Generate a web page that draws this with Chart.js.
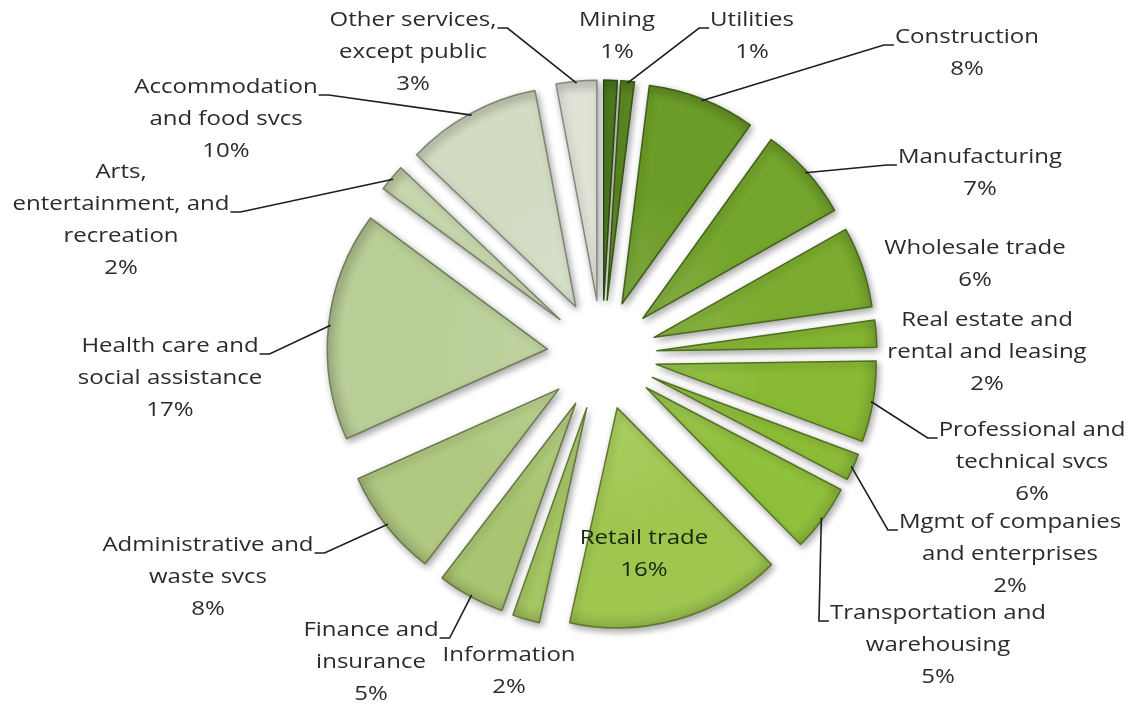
<!DOCTYPE html>
<html>
<head>
<meta charset="utf-8">
<script src="https://cdn.jsdelivr.net/npm/chart.js@4"></script>
<style>
  html, body { margin: 0; padding: 0; background: #fff; }
  #wrap { width: 1131px; height: 708px; }
</style>
</head>
<body>
<div id="wrap"><canvas id="pieChart" width="1131" height="708"></canvas></div>
<script>
// Подписи секторов (по строкам, как на картинке)
const labelLines = [
  ['Mining'], ['Utilities'], ['Construction'], ['Manufacturing'], ['Wholesale trade'],
  ['Real estate and', 'rental and leasing'], ['Professional and', 'technical svcs'],
  ['Mgmt of companies', 'and enterprises'], ['Transportation and', 'warehousing'],
  ['Retail trade'], ['Information'], ['Finance and', 'insurance'],
  ['Administrative and', 'waste svcs'], ['Health care and', 'social assistance'],
  ['Arts,', 'entertainment, and', 'recreation'], ['Accommodation', 'and food svcs'],
  ['Other services,', 'except public']
];
const categories = labelLines.map(l => l.join(' '));

// Доли, %
const shares = [1, 1, 8, 7, 6, 2, 6, 2, 5, 16, 2, 5, 8, 17, 2, 10, 3];

// Цвета секторов
const sliceColors = [
  '#4e7b1e', '#5b8a22', '#6c9d28', '#74a52c', '#7bac2f', '#84b532', '#89ba34',
  '#8dbd38', '#90c13c', '#9fc750', '#a5c663', '#aac672', '#b0c880', '#b9ce97',
  '#c7d7ad', '#d3dcc3', '#dfe3d6'
];

// Положение подписей: центр по x, y первой строки, сторона выноски, строка выноски
const labelLayout = [
  [617, 20, null, 0], [752, 20, 'L', 0], [967, 37, 'L', 0], [980, 157, 'L', 0],
  [975, 248, null, 0], [987, 320, null, 0], [1032, 430, 'L', 0], [1010, 522, 'L', 0],
  [938, 613, 'L', 0], [644, 538, null, 0], [509, 655, null, 0], [371, 630, 'R', 0],
  [208, 545, 'R', 0], [170, 346, 'R', 0], [121, 172, 'R', 1], [226, 87, 'R', 0],
  [413, 20, 'R', 0]
];

const pieRadius = 220;
const explode = 55;
const lineHeight = 32;
const textScaleX = 1.2;
const labelFont = '20px "Open Sans"';

function shade(hex, amt) {
  const n = parseInt(hex.slice(1), 16);
  let r = n >> 16, g = (n >> 8) & 255, b = n & 255;
  const f = c => Math.round(amt >= 0 ? c + (255 - c) * amt : c * (1 + amt));
  return `rgb(${f(r)},${f(g)},${f(b)})`;
}

// Круговая диаграмма с выдвинутыми секторами
// (встроенный offset ещё и растягивает радиус узких секторов, поэтому сдвигаем сами)
class ExplodedPie extends Chart.PieController {
  static id = 'explodedPie';
  draw() {
    const ctx = this.chart.ctx;
    const area = this.chart.chartArea;
    this._cachedMeta.data.forEach(arc => {
      const mid = (arc.startAngle + arc.endAngle) / 2;
      ctx.save();
      ctx.translate(Math.cos(mid) * explode, Math.sin(mid) * explode);
      arc.draw(ctx, area);
      ctx.restore();
    });
  }
}
Chart.register(ExplodedPie);

function sliceFill(ctx) {
  const chart = ctx.chart;
  const area = chart.chartArea;
  const base = sliceColors[ctx.dataIndex];
  if (!area) return base;
  const cx = (area.left + area.right) / 2;
  const cy = (area.top + area.bottom) / 2;
  const g = chart.ctx.createRadialGradient(cx, cy, 0, cx, cy, pieRadius);
  g.addColorStop(0, shade(base, 0.12));
  g.addColorStop(0.5, base);
  g.addColorStop(0.93, base);
  g.addColorStop(1, shade(base, -0.12));
  return g;
}

// Мягкая тень под секторами
const shadowPlugin = {
  id: 'sliceShadow',
  beforeDatasetsDraw(chart) {
    const c = chart.ctx;
    c.save();
    c.shadowColor = 'rgba(0,0,0,0.35)';
    c.shadowBlur = 7;
    c.shadowOffsetX = 2;
    c.shadowOffsetY = 3;
  },
  afterDatasetsDraw(chart) {
    chart.ctx.restore();
  }
};

// Подписи и выноски
const labelPlugin = {
  id: 'outLabels',
  afterDatasetsDraw(chart) {
    const c = chart.ctx;
    const arcs = chart.getDatasetMeta(0).data;
    c.save();
    c.font = labelFont;
    c.textAlign = 'center';
    c.textBaseline = 'middle';
    arcs.forEach((arc, i) => {
      const [lx, ly, side, anchorLine] = labelLayout[i];
      const lines = labelLines[i].concat([shares[i] + '%']);
      c.fillStyle = i === 9 ? '#1c260d' : '#2b2b2b';
      lines.forEach((t, k) => {
        c.save();
        c.translate(lx, ly + k * lineHeight);
        c.scale(textScaleX, 1);
        c.fillText(t, 0, 0);
        c.restore();
      });
      if (!side) return;
      const w = c.measureText(lines[anchorLine]).width * textScaleX;
      const y0 = ly + anchorLine * lineHeight + 8;
      const x0 = side === 'L' ? lx - w / 2 - 1 : lx + w / 2 + 1;
      const x1 = side === 'L' ? x0 - 10 : x0 + 10;
      const p = arc.getProps(['x', 'y', 'startAngle', 'endAngle', 'outerRadius']);
      const mid = (p.startAngle + p.endAngle) / 2;
      const ex = p.x + Math.cos(mid) * (explode + p.outerRadius - 2);
      const ey = p.y + Math.sin(mid) * (explode + p.outerRadius - 2);
      c.beginPath();
      c.moveTo(x0, y0);
      c.lineTo(x1, y0);
      c.lineTo(ex, ey);
      c.strokeStyle = '#1e1e1e';
      c.lineWidth = 1.6;
      c.stroke();
    });
    c.restore();
  }
};

function createPieChart() {
  const ctx = document.getElementById('pieChart').getContext('2d');
  new Chart(ctx, {
    type: 'explodedPie',
    data: {
      labels: categories,
      datasets: [{
        data: shares,
        backgroundColor: sliceFill,
        borderColor: sliceColors.map(c => shade(c, -0.4)),
        borderWidth: 1.5,
        borderJoinStyle: 'round',
        offset: 0,
        hoverOffset: 0,
        radius: pieRadius
      }]
    },
    options: {
      responsive: false,
      animation: false,
      events: [],
      layout: { padding: { left: 73, top: 2, right: 0, bottom: 0 } },
      plugins: {
        legend: { display: false },
        tooltip: { enabled: false }
      }
    },
    plugins: [shadowPlugin, labelPlugin]
  });
}

document.addEventListener('DOMContentLoaded', createPieChart);
</script>
</body>
</html>
